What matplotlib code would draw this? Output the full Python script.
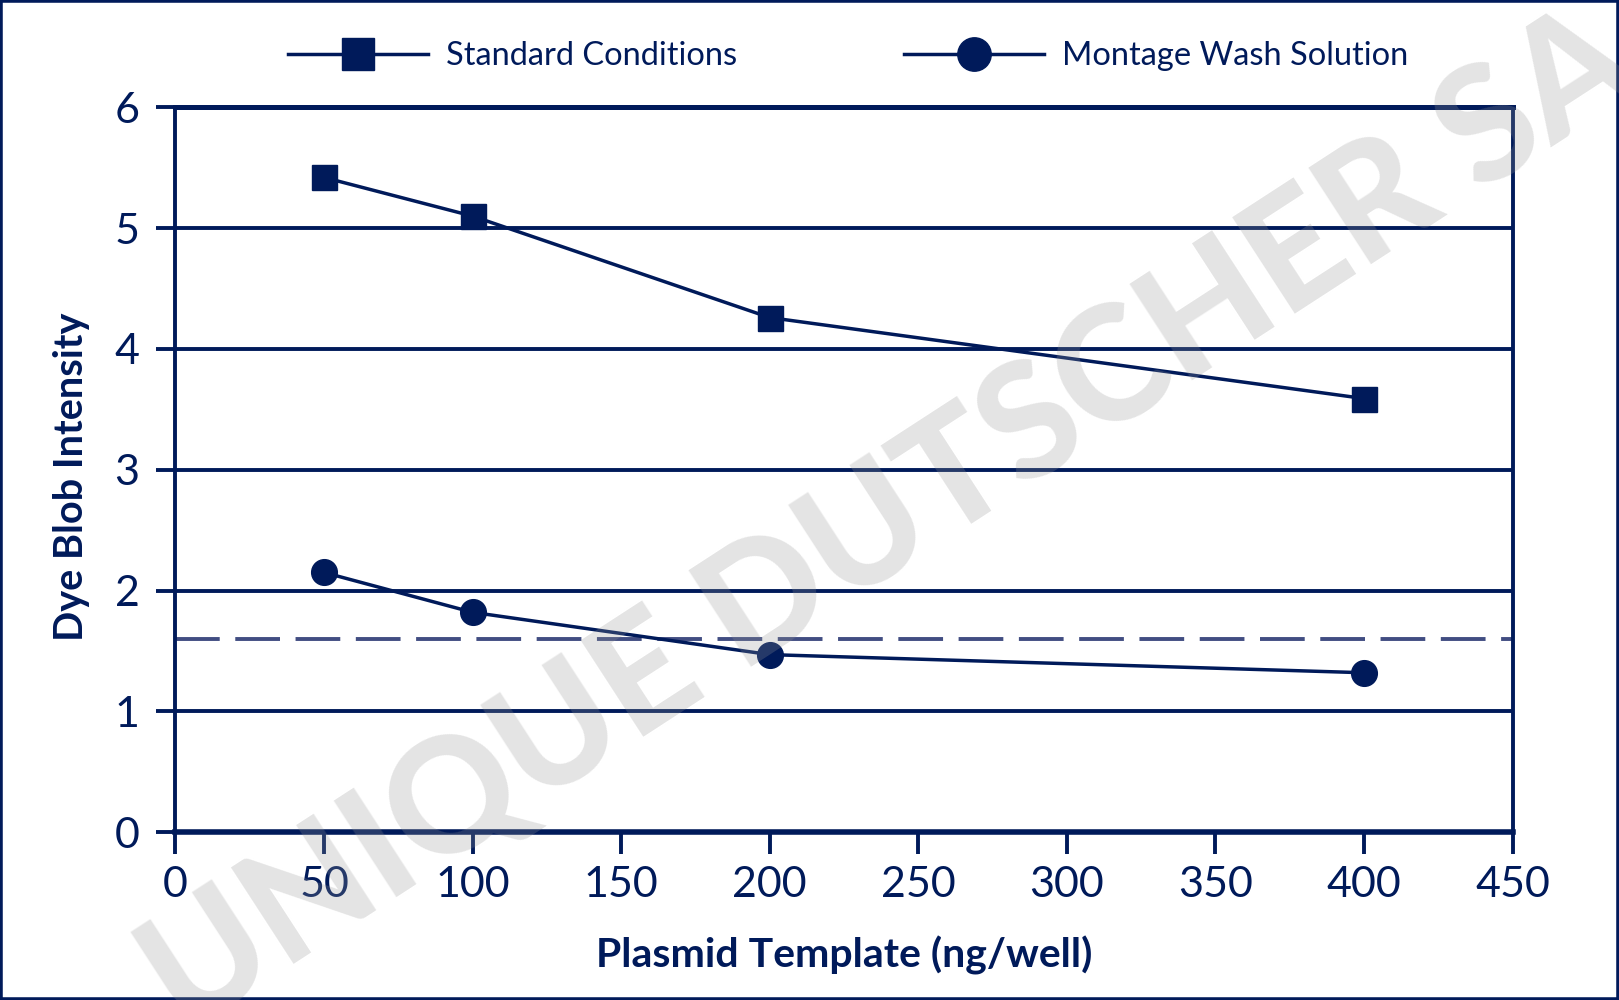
import matplotlib
matplotlib.use("Agg")
import matplotlib.pyplot as plt
from matplotlib.patches import Rectangle

# ---- data ----
template_ng = [50, 100, 200, 400]
standard_conditions = [5.42, 5.10, 4.26, 3.59]
montage_wash = [2.15, 1.82, 1.47, 1.32]
threshold = 1.6
x_ticks = [0, 50, 100, 150, 200, 250, 300, 350, 400, 450]
y_ticks = [0, 1, 2, 3, 4, 5, 6]
series_labels = ["Standard Conditions", "Montage Wash Solution"]
x_label = "Plasmid Template (ng/well)"
y_label = "Dye Blob Intensity"
watermark = "UNIQUE DUTSCHER SA"

NAVY = "#001a5a"
DASH = "#414d82"
FONT = ["Lato", "DejaVu Sans"]
plt.rcParams['font.family'] = FONT

fig = plt.figure(figsize=(16.19, 10.0), dpi=100)
ax = fig.add_axes([0.1084, 0.1678, 0.8259, 0.7248])

ax.set_xlim(0, 450)
ax.set_ylim(0, 6)

# gridlines
for yv in y_ticks[1:-1]:
    ax.axhline(yv, color=NAVY, lw=2.8, zorder=1)

# threshold dashed line
ax.axhline(threshold, color=DASH, lw=2.8, dashes=(11.5, 4), zorder=2)

ax.plot(template_ng, standard_conditions, color=NAVY, lw=2.5, marker='s',
        markersize=18, label=series_labels[0], zorder=4, clip_on=False)
ax.plot(template_ng, montage_wash, color=NAVY, lw=2.5, marker='o',
        markersize=18.5, label=series_labels[1], zorder=4, clip_on=False)

# spines
for s in ['left', 'right']:
    ax.spines[s].set_color(NAVY)
    ax.spines[s].set_linewidth(2.8)
ax.spines['bottom'].set_color(NAVY)
ax.spines['bottom'].set_linewidth(4.0)
ax.spines['top'].set_color(NAVY)
ax.spines['top'].set_linewidth(3.6)

ax.set_xticks(x_ticks)
ax.set_yticks(y_ticks)
ax.tick_params(axis='both', colors=NAVY, labelcolor=NAVY, labelsize=31, width=2.8)
ax.tick_params(axis='y', length=14, pad=12)
ax.tick_params(axis='x', length=16, pad=8)

ax.set_xlabel(x_label, fontsize=29.5, fontweight='bold', color=NAVY)
ax.set_ylabel(y_label, fontsize=28.5, fontweight='bold', color=NAVY)
ax.xaxis.set_label_coords(0.5, -0.143)
ax.yaxis.set_label_coords(-0.064, 0.49)

leg = ax.legend(ncol=2, loc='center', bbox_to_anchor=(0.503, 1.071), frameon=False,
                fontsize=23.5, handlelength=4.3, handletextpad=0.55, columnspacing=5.1,
                markerscale=1.3, labelcolor=NAVY)

# figure border
fig.add_artist(Rectangle((0, 0), 1, 1, transform=fig.transFigure, fill=False,
                         ec=NAVY, lw=4, zorder=10))

# watermark
fig.text(0.55, 0.478, watermark, rotation=33, rotation_mode='anchor',
         ha='center', va='center', fontsize=114, fontweight='black',
         color='#959595', alpha=0.26, zorder=20)

fig.savefig("out.png", dpi=100)
